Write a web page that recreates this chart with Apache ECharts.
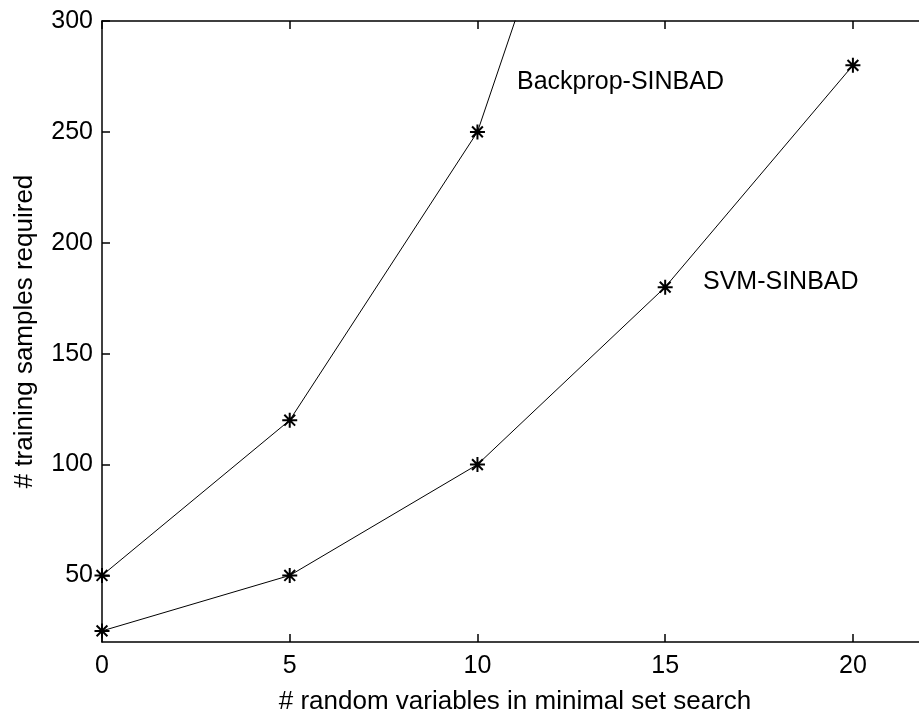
<!DOCTYPE html>
<html>
<head>
<meta charset="utf-8">
<script src="https://cdn.jsdelivr.net/npm/echarts@6/dist/echarts.min.js"></script>
<style>
  html, body { margin: 0; padding: 0; background: #fff; }
  #chart { width: 919px; height: 717px; }
</style>
</head>
<body>
<div id="chart"></div>
<script>
// Number of random variables in the minimal set search
const randomVars = [0, 5, 10, 15, 20];
// Training samples required by each method
const backpropSamples = [50, 120, 250, 500];
const svmSamples = [25, 50, 100, 180, 280];
// Tick values
const xTicks = [0, 5, 10, 15, 20];
const yTicks = [50, 100, 150, 200, 250, 300];

const FONT = '"Liberation Sans", Arial, Helvetica, sans-serif';
const asterisk = 'path://M0,-5L0,5M-5,0L5,0M-3.6,-3.6L3.6,3.6M-3.6,3.6L3.6,-3.6';

const pairs = (xs, ys) => ys.map((y, i) => [xs[i], y]);

const axisLineStyle = { color: '#000', width: 1.5 };
const tickFont = { color: '#000', fontFamily: FONT, fontSize: 25 };
const nameFont = { color: '#000', fontFamily: FONT, fontSize: 26 };

const chart = echarts.init(document.getElementById('chart'), null, { renderer: 'canvas' });
chart.setOption({
  backgroundColor: '#fff',
  animation: false,
  grid: { left: 102, top: 21, right: -9, bottom: 75, containLabel: false, outerBoundsMode: 'none' },
  xAxis: [
    {
      type: 'value', min: 0, max: 22, position: 'bottom',
      splitLine: { show: false },
      axisLine: { onZero: false, lineStyle: axisLineStyle },
      axisTick: { inside: true, length: 8, lineStyle: axisLineStyle, customValues: xTicks },
      axisLabel: Object.assign({ customValues: xTicks, margin: 12 }, tickFont),
      name: '# random variables in minimal set search',
      nameLocation: 'middle', nameGap: 47,
      nameTextStyle: nameFont
    },
    {
      type: 'value', min: 0, max: 22, position: 'top',
      splitLine: { show: false },
      axisLine: { onZero: false, lineStyle: axisLineStyle },
      axisTick: { inside: true, length: 8, lineStyle: axisLineStyle, customValues: xTicks },
      axisLabel: { show: false }
    }
  ],
  yAxis: {
    type: 'value', min: 20, max: 300,
    splitLine: { show: false },
    axisLine: { onZero: false, lineStyle: axisLineStyle },
    axisTick: { inside: true, length: 8, lineStyle: axisLineStyle, customValues: yTicks },
    axisLabel: Object.assign({ customValues: yTicks, margin: 9 }, tickFont),
    name: '# training samples required',
    nameLocation: 'middle', nameGap: 64, nameRotate: 90,
    nameTextStyle: nameFont
  },
  series: [
    {
      name: 'Backprop-SINBAD', type: 'line', clip: true,
      data: pairs(randomVars, backpropSamples),
      symbol: asterisk, symbolSize: 15,
      lineStyle: { color: '#000', width: 1 },
      itemStyle: { color: '#000', borderColor: '#000', borderWidth: 2 }
    },
    {
      name: 'SVM-SINBAD', type: 'line', clip: true,
      data: pairs(randomVars, svmSamples),
      symbol: asterisk, symbolSize: 15,
      lineStyle: { color: '#000', width: 1 },
      itemStyle: { color: '#000', borderColor: '#000', borderWidth: 2 }
    }
  ],
  graphic: [
    { type: 'text', left: 517, top: 70,
      style: { text: 'Backprop-SINBAD', fill: '#000', font: '25px ' + FONT } },
    { type: 'text', left: 703, top: 270,
      style: { text: 'SVM-SINBAD', fill: '#000', font: '25px ' + FONT } }
  ]
});
</script>
</body>
</html>
